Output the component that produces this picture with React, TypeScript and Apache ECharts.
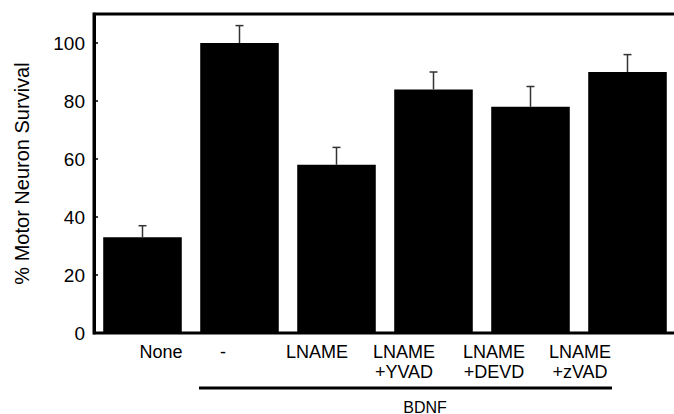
import React, { useEffect, useRef } from "react";
import * as echarts from "echarts";

const categories = ["None", "-", "LNAME", "LNAME\n+YVAD", "LNAME\n+DEVD", "LNAME\n+zVAD"];
const survival = [33, 100, 58, 84, 78, 90];
const errorTop = [37, 106, 64, 90, 85, 96];
const yTicks = [0, 20, 40, 60, 80, 100];
const groupLabel = "BDNF";

const FONT = "'Liberation Sans', Arial, Helvetica, sans-serif";
const labelX = [161, 223, 317, 404, 494, 580];

export default function App() {
  const ref = useRef<HTMLDivElement>(null);
  useEffect(() => {
    if (!ref.current) return;
    const chart = echarts.init(ref.current, null, { renderer: "svg" });
    const labelGraphics = categories.map((c, i) => ({
      type: "text",
      x: labelX[i],
      y: 342,
      style: {
        text: c,
        fontFamily: FONT,
        fontSize: 18,
        fill: "#000",
        align: "center",
        verticalAlign: "top",
        lineHeight: 20,
      },
    }));
    chart.setOption({
      animation: false,
      backgroundColor: "#fff",
      grid: {
        left: 94,
        top: 14,
        width: 582,
        height: 319,
        outerBoundsMode: "none",
        show: true,
        borderColor: "#000",
        borderWidth: 3,
      },
      xAxis: {
        type: "category",
        data: categories,
        axisLine: { show: true, lineStyle: { color: "#000", width: 2 } },
        axisTick: { show: false },
        axisLabel: { show: false },
      },
      yAxis: {
        type: "value",
        min: 0,
        max: 110,
        interval: 20,
        name: "% Motor Neuron Survival",
        nameLocation: "middle",
        nameRotate: 90,
        nameGap: 62,
        nameTextStyle: { fontFamily: FONT, fontSize: 20, color: "#000" },
        axisLine: { show: true, lineStyle: { color: "#000", width: 3 } },
        axisTick: { show: true, inside: true, length: 4, lineStyle: { color: "#000", width: 1.5 } },
        splitLine: { show: false },
        axisLabel: {
          fontFamily: FONT,
          fontSize: 19,
          color: "#000",
          margin: 9,
          formatter: (v: number) => (yTicks.includes(v) ? String(v) : ""),
        },
      },
      series: [
        {
          type: "bar",
          data: survival,
          barCategoryGap: "19%",
          itemStyle: { color: "#000" },
          z: 2,
        },
        {
          type: "custom",
          z: 3,
          data: survival.map((v, i) => [i, v, errorTop[i]]),
          renderItem: (params: any, api: any) => {
            const x = api.value(0);
            const lo = api.coord([x, api.value(1)]);
            const hi = api.coord([x, api.value(2)]);
            const cap = 4;
            const style = { stroke: "#333", lineWidth: 1.5 };
            return {
              type: "group",
              children: [
                { type: "line", shape: { x1: lo[0], y1: lo[1], x2: hi[0], y2: hi[1] }, style },
                { type: "line", shape: { x1: hi[0] - cap, y1: hi[1], x2: hi[0] + cap, y2: hi[1] }, style },
              ],
            };
          },
        },
      ],
      graphic: [
        ...labelGraphics,
        {
          type: "line",
          shape: { x1: 199, y1: 388, x2: 612, y2: 388 },
          style: { stroke: "#000", lineWidth: 3 },
        },
        {
          type: "text",
          x: 425,
          y: 407,
          style: {
            text: groupLabel,
            fontFamily: FONT,
            fontSize: 16,
            lineHeight: 13,
            fill: "#000",
            align: "center",
            verticalAlign: "middle",
          },
        },
      ],
    });
    return () => chart.dispose();
  }, []);
  return <div ref={ref} style={{ width: 674, height: 414, position: "absolute", left: 0, top: 0 }} />;
}
